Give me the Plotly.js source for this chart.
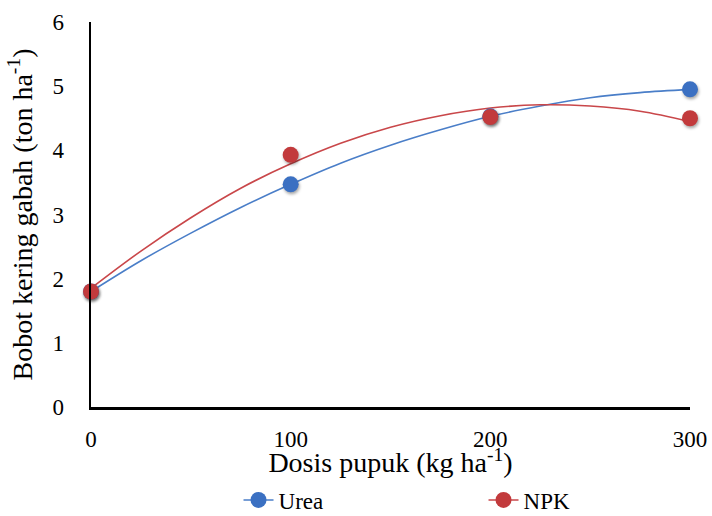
<!DOCTYPE html>
<html>
<head>
<meta charset="utf-8">
<script src="https://cdn.plot.ly/plotly-3.0.1.min.js"></script>
<style>
html,body{margin:0;padding:0;background:#fff;overflow:hidden;}
#fontwarm{position:absolute;left:-3000px;top:0;font-family:'Liberation Serif';font-size:23px;color:#000;white-space:nowrap;}
#chart{position:relative;background:#fff;}
#chart .scatterlayer .points path{filter:drop-shadow(1px 2px 1.5px rgba(0,0,0,0.35));}
</style>
</head>
<body>
<div id="fontwarm">Bobot kering gabah Dosis pupuk 0123456789 Urea NPK</div>
<div id="chart" style="width:712px;height:516px;"></div>
<script>
// Observed points
const doses = [0, 100, 200, 300];
const ureaYield = [1.80, 3.47, 4.53, 4.95];
const npkYield = [1.80, 3.93, 4.52, 4.50];

// Trend curves
const trendX = [0, 25, 50, 75, 100, 125, 150, 175, 200, 225, 250, 275, 300];
const ureaTrend = [1.80, 2.28, 2.71, 3.11, 3.47, 3.80, 4.08, 4.32, 4.53, 4.69, 4.82, 4.90, 4.95];
const npkTrend = [1.85, 2.43, 2.95, 3.41, 3.79, 4.11, 4.36, 4.54, 4.66, 4.71, 4.69, 4.61, 4.45];

const xTicks = [0, 100, 200, 300];
const yTicks = [0, 1, 2, 3, 4, 5, 6];

const blueLine = '#4a7ec8', blueDot = '#3b70c2';
const redLine = '#c9474a', redDot = '#c23a3c';

function makeTraces() {
  return [
    {x: trendX, y: ureaTrend, mode: 'lines', line: {color: blueLine, width: 1.6, shape: 'spline'}, showlegend: false, hoverinfo: 'skip', cliponaxis: false},
    {x: trendX, y: npkTrend, mode: 'lines', line: {color: redLine, width: 1.6, shape: 'spline'}, showlegend: false, hoverinfo: 'skip', cliponaxis: false},
    {x: doses, y: ureaYield, mode: 'markers', marker: {color: blueDot, size: 16}, showlegend: false, cliponaxis: false},
    {x: doses, y: npkYield, mode: 'markers', marker: {color: redDot, size: 16}, showlegend: false, cliponaxis: false},
    {x: [null], y: [null], name: 'Urea', mode: 'lines+markers', line: {color: blueLine, width: 1.6}, marker: {color: blueDot, size: 16}},
    {x: [null], y: [null], name: 'NPK', mode: 'lines+markers', line: {color: redLine, width: 1.6}, marker: {color: redDot, size: 16}}
  ];
}

function makeLayout() {
  return {
    width: 712, height: 516,
    margin: {l: 91, r: 22, t: 22, b: 109, autoexpand: false},
    paper_bgcolor: '#fff', plot_bgcolor: '#fff',
    font: {family: 'Liberation Serif', color: '#000', size: 23},
    showlegend: true,
    xaxis: {
      range: [0, 300], tickvals: xTicks, ticktext: xTicks.map(String),
      showgrid: false, zeroline: false, showline: true, linecolor: '#000', linewidth: 2.5,
      ticks: '', ticklabelstandoff: 10, fixedrange: true,
      title: {text: 'Dosis pupuk (kg ha<sup>-1</sup>)', standoff: 26}
    },
    yaxis: {
      range: [0, 6], tickvals: yTicks, ticktext: yTicks.map(String),
      showgrid: false, zeroline: false, showline: true, linecolor: '#000', linewidth: 2.5,
      ticks: '', ticklabelstandoff: 20, fixedrange: true,
      title: {text: 'Bobot kering gabah (ton ha<sup>-1</sup>)', standoff: 12}
    },
    legend: {
      orientation: 'h', x: 0.335, xanchor: 'left', xref: 'container',
      y: 0.031, yanchor: 'middle', yref: 'container',
      entrywidth: 200, entrywidthmode: 'pixels',
      bgcolor: 'rgba(0,0,0,0)', itemclick: false
    }
  };
}

const cfg = {displayModeBar: false, staticPlot: true};
function draw() {
  Plotly.purge('chart');
  Plotly.newPlot('chart', makeTraces(), makeLayout(), cfg);
}
draw();
if (document.fonts && document.fonts.load) {
  document.fonts.load('23px "Liberation Serif"', '0123456789 UreaNPK').then(draw);
  document.fonts.ready.then(draw);
}
setTimeout(draw, 150);
</script>
</body>
</html>
